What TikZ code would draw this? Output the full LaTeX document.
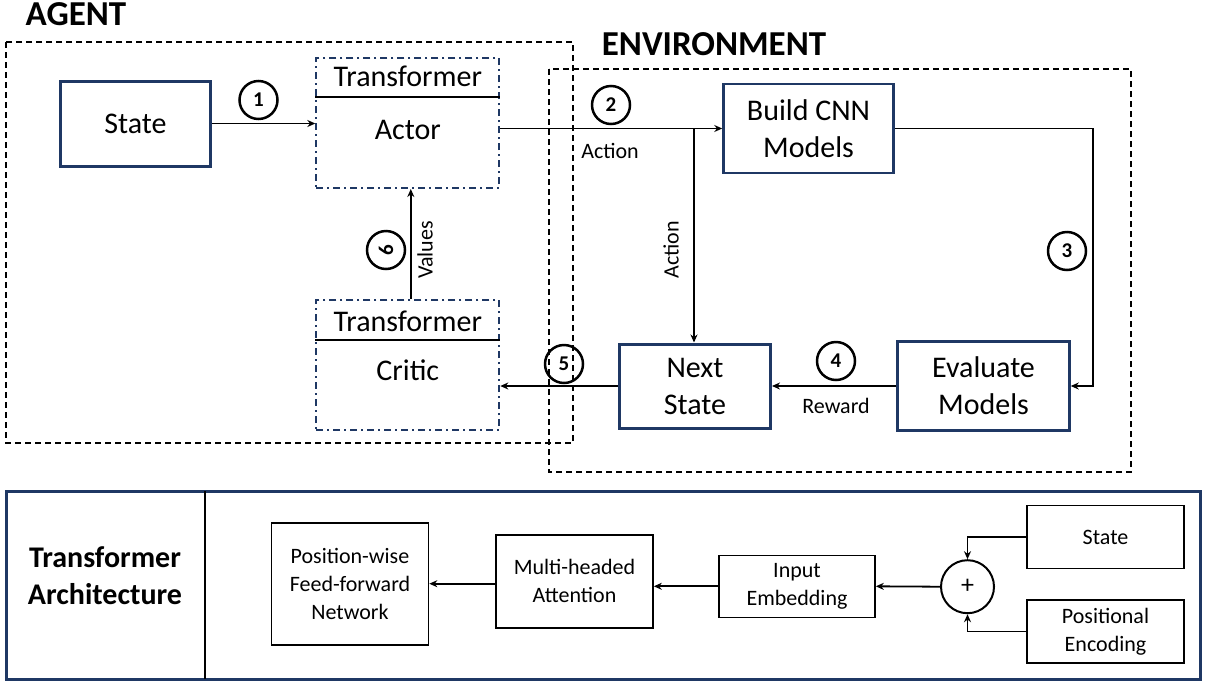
\documentclass[tikz,border=0pt]{standalone}
\usepackage{fontspec}
\setmainfont{Carlito}
\definecolor{boxnavy}{RGB}{31, 56, 100}
\usetikzlibrary{arrows.meta, positioning, calc}

\begin{document}
\begin{tikzpicture}[x=1pt, y=-1pt,
  every node/.style={inner sep=0pt},
  flow/.style={-{Stealth[length=8pt, width=7pt]}, line width=1.8pt},
  group/.style={line width=1.2pt, dash pattern=on 6pt off 4pt},
  mainbox/.style={draw=boxnavy, line width=3pt, align=center, font=\fontsize{30}{37}\selectfont},
  tfbox/.style={draw=boxnavy, line width=2pt, dash pattern=on 7pt off 4pt on 2pt off 4pt, minimum width=183pt, minimum height=130pt},
  bigtxt/.style={font=\fontsize{30}{37}\selectfont},
  edgetxt/.style={font=\fontsize{22}{22}\selectfont},
  stepnum/.style={circle, draw, line width=2.5pt, minimum size=38pt, font=\fontsize{21}{21}\selectfont\bfseries},
  archbox/.style={draw, line width=1.6pt, align=center, font=\fontsize{22}{28}\selectfont}]
  \useasboundingbox (0,0) rectangle (1206,683);

  % Agent and environment frames
  \draw[group] (6,42) rectangle (573,443);
  \draw[group] (549,69) rectangle (1131,472);
  \node[font=\fontsize{35}{35}\selectfont\bfseries] (agentlbl) at (76,14) {AGENT};
  \node[font=\fontsize{35}{35}\selectfont\bfseries] (envlbl) at (714,44) {ENVIRONMENT};

  % Agent
  \node[mainbox, minimum width=150pt, minimum height=85pt] (state) at (135.5,123.5) {State};
  \node[tfbox] (actor) at (407.8,123) {};
  \node[bigtxt] (actorhead) at (407.8,76) {Transformer};
  \draw[line width=2pt] ($(actor.north west)+(0,40)$) -- ($(actor.north east)+(0,40)$);
  \node[bigtxt] (actortxt) at (407.8,130) {Actor};
  \node[tfbox] (critic) at (407.8,365) {};
  \node[bigtxt] (critichead) at (407.8,321.5) {Transformer};
  \draw[line width=2pt] ($(critic.north west)+(0,41)$) -- ($(critic.north east)+(0,41)$);
  \node[bigtxt] (critictxt) at (407.8,370.5) {Critic};

  % Environment
  \node[mainbox, line width=2.5pt, minimum width=170pt, minimum height=89pt] (build) at (808.5,128.5) {Build CNN\\Models};
  \node[mainbox, line width=2.5pt, minimum width=172pt, minimum height=89pt] (evalm) at (983.5,386) {Evaluate\\Models};
  \node[mainbox, minimum width=151pt, minimum height=84pt] (nextst) at (695,386) {Next\\State};

  % Connectors
  \draw[flow] (state.east) -- (state.east -| actor.west);
  \draw[flow] (actor.east |- build.west) -- (build.west);
  \coordinate (split) at (694,128.5);
  \draw[flow] (split) -- (split |- nextst.north);
  \draw[flow] (build.east) -| ($(evalm.east)+(22,0)$) -- (evalm.east);
  \draw[flow] (evalm.west) -- (nextst.east);
  \draw[flow] (nextst.west) -- (nextst.west -| critic.east);
  \draw[flow] ($(critic.north)+(3,0)$) -- ($(actor.south)+(3,0)$);

  % Labels and step numbers
  \node[edgetxt] (act1) at (610,151) {Action};
  \node[edgetxt, rotate=90] (act2) at (671,250) {Action};
  \node[edgetxt] (rew) at (836,406) {Reward};
  \node[edgetxt, rotate=90] (vals) at (425,250) {Values};
  \node[stepnum] (s1) at (258.5,100) {1};
  \node[stepnum] (s2) at (611,105) {2};
  \node[stepnum] (s3) at (1067,251) {3};
  \node[stepnum] (s4) at (836,361) {4};
  \node[stepnum] (s5) at (564,364) {5};
  \node[stepnum, rotate=90] (s6) at (386,250) {6};

  % Transformer architecture
  \draw[boxnavy, line width=3pt] (6,491) rectangle (1200,679);
  \draw[line width=2.5pt] (205,491) -- (205,679);
  \node[align=center, font=\fontsize{30}{37}\selectfont\bfseries] (archlbl) at (105,576) {Transformer\\Architecture};
  \node[archbox, minimum width=157pt, minimum height=122pt] (ffn) at (350,583.7) {Position-wise\\Feed-forward\\Network};
  \node[archbox, minimum width=157pt, minimum height=93pt] (mha) at (574.5,581.3) {Multi-headed\\Attention};
  \node[archbox, minimum width=156pt, minimum height=62pt] (inemb) at (797,586.3) {Input\\Embedding};
  \node[circle, draw, line width=2pt, minimum size=53pt, font=\fontsize{26}{26}\selectfont] (plus) at (967.5,586.7) {+};
  \node[archbox, minimum width=157pt, minimum height=63pt] (archst) at (1105.5,537) {State};
  \node[archbox, minimum width=157pt, minimum height=63pt] (posenc) at (1105.5,631.5) {Positional\\Encoding};

  \draw[flow] (archst.west) -| (plus.north);
  \draw[flow] (posenc.west) -| (plus.south);
  \draw[flow] (plus.west) -- (inemb.east);
  \draw[flow] (inemb.west) -- (inemb.west -| mha.east);
  \draw[flow] (ffn.east -| mha.west) -- (ffn.east);
\end{tikzpicture}
\end{document}
